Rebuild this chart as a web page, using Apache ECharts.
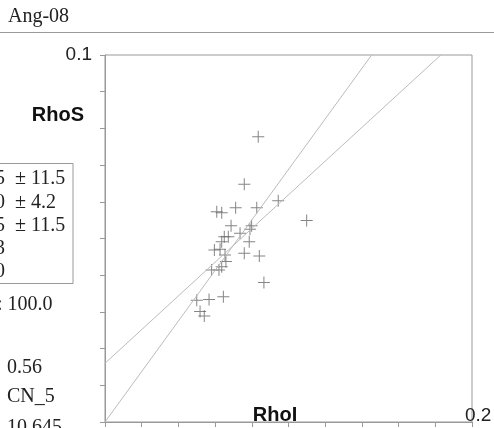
<!DOCTYPE html>
<html>
<head>
<meta charset="utf-8">
<script src="https://cdn.jsdelivr.net/npm/echarts@6/dist/echarts.min.js"></script>
<style>html,body{margin:0;padding:0;background:#fff;}#c{width:494px;height:428px;}</style>
</head>
<body>
<div id="c"></div>
<script>
// Data
const rhoI = [0.0835,0.0759,0.0944,0.1099,0.0609,0.0636,0.0712,0.0827,0.0687,0.0799,0.0790,0.0736,0.0650,0.0672,0.0636,0.0786,0.0596,0.0627,0.0759,0.0841,0.0654,0.0659,0.0636,0.0581,0.0621,0.0866,0.0500,0.0567,0.0645,0.0518,0.0541];
const rhoS = [0.0777,0.0648,0.0603,0.0549,0.0573,0.0570,0.0584,0.0584,0.0535,0.0535,0.0525,0.0514,0.0505,0.0505,0.0491,0.0491,0.0469,0.0471,0.0460,0.0452,0.0455,0.0437,0.0423,0.0414,0.0414,0.0380,0.0332,0.0334,0.0341,0.0301,0.0289];
const lineA = [[0, 0], [0.1453, 0.1]];
const lineB = [[0, 0.016], [0.183, 0.1]];
const xTickLabels = {0.2: '0.2'};
const yTickLabels = {0.1: '0.1'};
const infoBoxLines = ['5  \u00b1 11.5', '0  \u00b1 4.2', '5  \u00b1 11.5', '3', '0'];
const infoLines = [': 100.0', '0.56', 'CN_5', '10.645'];

const points = rhoI.map((x, i) => [x, rhoS[i]]);
const SERIF = '"Liberation Serif", "Times New Roman", serif';
const SANS = '"Liberation Sans", Arial, sans-serif';
const plus = 'path://M0,5.5L12,5.5L12,6.5L0,6.5Z M5.5,0L6.5,0L6.5,12L5.5,12Z';

const chart = echarts.init(document.getElementById('c'), null, {renderer: 'canvas'});

const graphics = [
  {type: 'text', x: 8, y: 17, style: {text: 'Ang-08', font: '20px ' + SERIF, fill: '#222', verticalAlign: 'middle'}},
  {type: 'line', shape: {x1: 0, y1: 32.5, x2: 494, y2: 32.5}, style: {stroke: '#999', lineWidth: 1}},
  {type: 'text', x: 84, y: 115, style: {text: 'RhoS', font: 'bold 20px ' + SANS, fill: '#111', align: 'right', verticalAlign: 'middle'}},
  {type: 'text', x: 275, y: 415, z: 10, style: {text: 'RhoI', font: 'bold 20px ' + SANS, fill: '#111', align: 'center', verticalAlign: 'middle'}},
  {type: 'rect', shape: {x: -5, y: 163.5, width: 78, height: 120}, style: {fill: 'none', stroke: '#999', lineWidth: 1}}
];
const boxY = [179, 203, 226, 249, 272];
infoBoxLines.forEach((t, i) => graphics.push({type: 'text', x: -5, y: boxY[i], style: {text: t, font: '20px ' + SERIF, fill: '#222', verticalAlign: 'middle'}}));
const infoY = [305, 368, 397, 428];
const infoX = [-3, 7, 7, 7];
infoLines.forEach((t, i) => graphics.push({type: 'text', x: infoX[i], y: infoY[i], style: {text: t, font: '20px ' + SERIF, fill: '#222', verticalAlign: 'middle'}}));

chart.setOption({
  animation: false,
  backgroundColor: '#fff',
  grid: {left: 105, top: 55, width: 367, height: 367, show: true, borderColor: '#999', borderWidth: 1, containLabel: false, outerBoundsMode: 'none'},
  xAxis: {
    type: 'value', min: 0, max: 0.2, interval: 0.02,
    axisLine: {show: true, onZero: false, lineStyle: {color: '#999'}},
    axisTick: {show: true, length: 5, lineStyle: {color: '#999'}},
    splitLine: {show: false},
    axisLabel: {show: true, showMaxLabel: true, margin: -16, fontFamily: SANS, fontSize: 19, color: '#222',
      align: 'left', padding: [0, 0, 0, -7],
      formatter: v => xTickLabels[Math.round(v * 100) / 100] || ''}
  },
  yAxis: {
    type: 'value', min: 0, max: 0.1, interval: 0.01,
    axisLine: {show: true, onZero: false, lineStyle: {color: '#999'}},
    axisTick: {show: true, length: 5, lineStyle: {color: '#999'}},
    splitLine: {show: false},
    axisLabel: {show: true, showMaxLabel: true, margin: 13, fontFamily: SANS, fontSize: 19, color: '#222',
      formatter: v => yTickLabels[Math.round(v * 100) / 100] || ''}
  },
  series: [
    {type: 'line', data: lineA, symbol: 'none', lineStyle: {color: '#bbb', width: 1}, silent: true},
    {type: 'line', data: lineB, symbol: 'none', lineStyle: {color: '#bbb', width: 1}, silent: true},
    {type: 'scatter', data: points, symbol: plus, symbolSize: 12, itemStyle: {color: '#666'}}
  ],
  graphic: graphics
});
</script>
</body>
</html>
